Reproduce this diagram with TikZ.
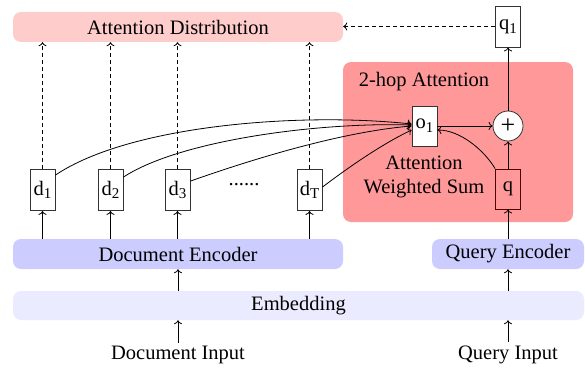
\documentclass[tikz,border=0pt]{standalone}
\usepackage{fontspec}
\setmainfont{Liberation Serif}
\usetikzlibrary{arrows.meta}
\newcommand{\sbs}[1]{\raisebox{-0.4ex}{\fontsize{15}{15}\selectfont #1}}
\begin{document}
\begin{tikzpicture}[x=1pt,y=1pt,
  font=\fontsize{20.5}{23}\selectfont,
  >={To[length=4pt,width=8pt]},
  band/.style={draw=none,rounded corners=8pt,inner sep=0pt},
  vbox/.style={draw=black!80,line width=0.8pt,fill=white,minimum width=25pt,minimum height=41pt,inner sep=0pt},
  arr/.style={->,line width=0.8pt},
  darr/.style={->,line width=0.8pt,dashed,dash pattern=on 4pt off 3pt}]
\useasboundingbox (0,0) rectangle (585,-369);
% bands
\node[band,fill=red!20,minimum width=330pt,minimum height=30pt] (att) at (178,-27) {Attention Distribution};
\node[band,fill=red!40,minimum width=230pt,minimum height=160pt] (hop) at (458,-142) {};
\node at (424,-82) {2-hop Attention};
\node[band,fill=blue!20,minimum width=330pt,minimum height=30pt] (denc) at (178,-254) {Document Encoder};
\node[band,fill=blue!20,minimum width=152pt,minimum height=30pt] (qenc) at (508,-254) {Query Encoder};
\node[band,fill=blue!8,minimum width=571pt,minimum height=29pt] (emb) at (298.5,-305.5) {Embedding};
\node (din) at (178,-355) {Document Input};
\node (qin) at (508,-355) {Query Input};
% boxes
\node[vbox] (d1) at (42.5,-190) {d\sbs{1}};
\node[vbox] (d2) at (110.5,-190) {d\sbs{2}};
\node[vbox] (d3) at (177.5,-190) {d\sbs{3}};
\node[vbox] (dT) at (309.5,-190) {d\sbs{T}};
\node (dots) at (244,-185) {......};
\node[vbox,minimum height=40pt] (o1) at (424.5,-126) {o\sbs{1}};
\node[vbox,draw=black!70!red,fill=red!40,minimum height=40pt] (q) at (508,-189) {q};
\node[vbox,minimum height=41pt] (q1) at (508,-26.5) {q\sbs{1}};
\node[draw=black!80,line width=0.8pt,fill=white,circle,minimum size=30pt,inner sep=0pt,font=\fontsize{26}{26}\selectfont] (plus) at (508,-126) {+};
\node[align=center,font=\fontsize{20.5}{24}\selectfont] (ws) at (424,-177) {Attention\\Weighted Sum};
% arrows
\draw[arr] (din.north) -- (emb.south -| din.north);
\draw[arr] (qin.north) -- (emb.south -| qin.north);
\draw[arr] (emb.north -| denc.south) -- (denc.south);
\draw[arr] (emb.north -| qenc.south) -- (qenc.south);
\foreach \d in {d1,d2,d3,dT}{
  \draw[arr] (denc.north -| \d.south) -- (\d.south);
  \draw[darr] (\d.north) -- (att.south -| \d.north);
}
\draw[arr] (qenc.north -| q.south) -- (q.south);
\draw[arr] (q.north) -- (plus.south);
\draw[arr] (plus.north) -- (q1.south);
\draw[arr] (o1.east) -- (plus.west);
\draw[darr] (q1.west) -- (att.east |- q1.west);
\draw[arr] (q.north west) .. controls (484,-150) and (460,-130) .. ([yshift=-4pt]o1.east);
\draw[arr] (d1.north east) ++(0,-6) .. controls (130,-125) and (300,-112) .. ([yshift=2pt]o1.west);
\draw[arr] (d2.north east) ++(0,-8) .. controls (180,-140) and (320,-122) .. ([yshift=1pt]o1.west);
\draw[arr] (d3.north east) ++(0,-12) .. controls (250,-160) and (340,-132) .. ([yshift=0pt]o1.west);
\draw[arr] (dT.north east) ++(0,-18) .. controls (345,-170) and (380,-145) .. ([yshift=-4pt]o1.west);
\end{tikzpicture}
\end{document}
